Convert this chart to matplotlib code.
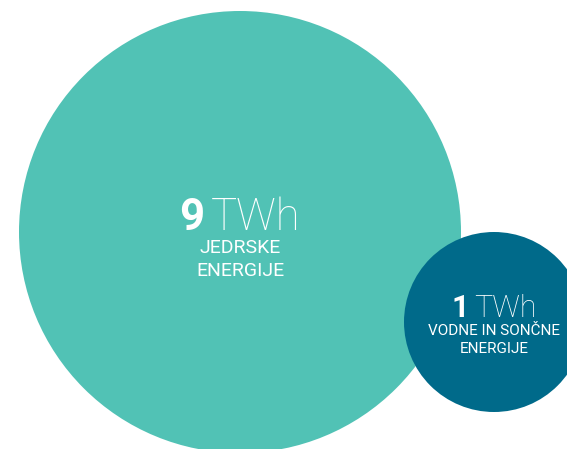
import matplotlib
matplotlib.use("Agg")
import matplotlib.pyplot as plt
from matplotlib.patches import Circle

# data
values = [9, 1]
units = ["TWh", "TWh"]
labels = [["JEDRSKE", "ENERGIJE"], ["VODNE IN SONČNE", "ENERGIJE"]]
colors = ["#51C2B5", "#006A8A"]

# layout (pixels, y down)
centers = [(240, 232), (494, 322)]
radii = [221, 90]
num_size = [31.5, 22]
lab_size = [14, 11]
num_base = [230, 317]
lab_gap = [23, 18]

W, H = 567, 449
fig = plt.figure(figsize=(W / 100, H / 100), dpi=100)
ax = fig.add_axes([0, 0, 1, 1])
ax.set_xlim(0, W)
ax.set_ylim(H, 0)
ax.set_aspect("equal")
ax.axis("off")

for (cx, cy), r, c in zip(centers, radii, colors):
    ax.add_patch(Circle((cx, cy), r, color=c, lw=0))

fig.canvas.draw()
rend = fig.canvas.get_renderer()

for i, v in enumerate(values):
    cx, cy = centers[i]
    t1 = ax.text(0, num_base[i], str(v), fontsize=num_size[i], fontweight="bold",
                 family="Roboto", color="white", ha="left", va="baseline")
    t2 = ax.text(0, num_base[i], units[i], fontsize=num_size[i], fontweight="light",
                 family="Roboto", color="white", ha="left", va="baseline")
    w1 = t1.get_window_extent(rend).width
    w2 = t2.get_window_extent(rend).width
    gap = num_size[i] * 0.22
    total = w1 + gap + w2
    x0 = cx - total / 2
    t1.set_x(x0)
    t2.set_x(x0 + w1 + gap)
    for j, line in enumerate(labels[i]):
        ax.text(cx, num_base[i] + (j + 1) * lab_gap[i], line, fontsize=lab_size[i],
                family="Roboto", fontweight="normal", color="white",
                ha="center", va="baseline")

fig.savefig("out.png", dpi=100)
